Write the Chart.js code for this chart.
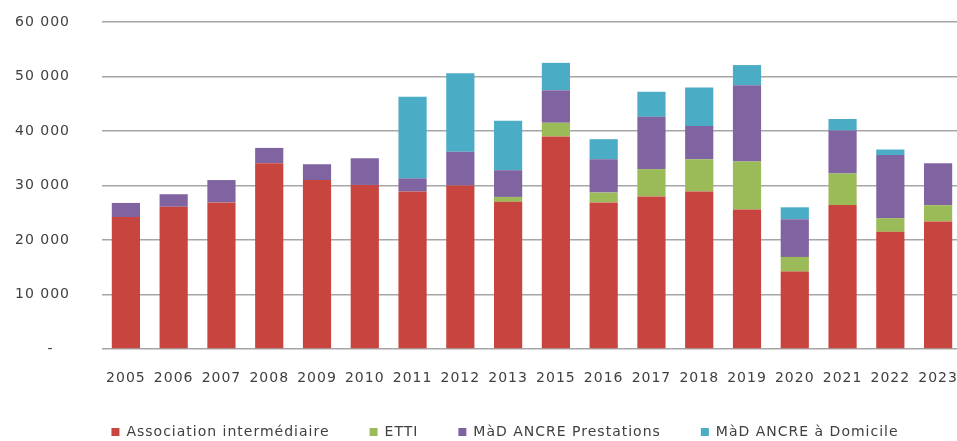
<!DOCTYPE html>
<html>
<head>
<meta charset="utf-8">
<script src="https://cdn.jsdelivr.net/npm/chart.js@4/dist/chart.umd.min.js"></script>
<style>
  html, body { margin: 0; padding: 0; background: #ffffff; overflow: hidden; }
  #wrap { position: relative; width: 966px; height: 441px; }
</style>
</head>
<body>
<div id="wrap"><canvas id="c"></canvas></div>
<script>
const years = ['2005','2006','2007','2008','2009','2010','2011','2012','2013','2015','2016','2017','2018','2019','2020','2021','2022','2023'];
const associationIntermediaire = [24200, 26100, 26900, 34100, 31000, 30100, 28900, 30000, 27000, 39000, 26900, 28000, 28900, 25600, 14200, 26400, 21500, 23400];
const etti = [0, 0, 0, 0, 0, 0, 0, 0, 900, 2500, 1800, 5000, 5900, 8800, 2700, 5800, 2500, 3000];
const madPrestations = [2600, 2300, 4100, 2800, 2900, 4900, 2400, 6200, 4900, 6000, 6100, 9600, 6100, 14000, 6900, 7900, 11600, 7700];
const madDomicile = [0, 0, 0, 0, 0, 0, 15000, 14400, 9100, 5000, 3700, 4600, 7100, 3700, 2200, 2100, 1000, 0];
const seriesNames = ['Association intermédiaire', 'ETTI', 'MàD ANCRE Prestations', 'MàD ANCRE à Domicile'];
const yTicks = [0, 10000, 20000, 30000, 40000, 50000, 60000];

const colors = ['#C8443F', '#9BBB59', '#8064A2', '#4BACC6'];
const textColor = '#404040';
const fontFamily = '"DejaVu Sans", sans-serif';

function fmt(v) {
  if (v === 0) return '-   ';
  return String(v).replace(/\B(?=(\d{3})+(?!\d))/g, ' ');
}

const spacingPlugin = {
  id: 'letterSpacing',
  beforeLayout(chart) { chart.ctx.letterSpacing = '1px'; },
  beforeDraw(chart) { chart.ctx.letterSpacing = '1px'; },
  afterLayout(chart) {
    // nudge the legend row to the reference's horizontal position
    if (chart.legend) { chart.legend.left += 19; chart.legend.right += 19; }
  }
};

const seriesData = [associationIntermediaire, etti, madPrestations, madDomicile];

new Chart(document.getElementById('c'), {
  type: 'bar',
  data: {
    labels: years,
    datasets: seriesData.map((d, i) => ({
      label: seriesNames[i],
      data: d,
      backgroundColor: colors[i],
      borderWidth: 0,
      categoryPercentage: 1,
      barPercentage: 0.59
    }))
  },
  options: {
    responsive: true,
    maintainAspectRatio: false,
    animation: false,
    layout: { padding: { left: 10, right: 4, top: 22, bottom: 0 } },
    font: { family: fontFamily, size: 14 },
    color: textColor,
    plugins: {
      tooltip: { enabled: false },
      legend: {
        position: 'bottom',
        maxHeight: 56,
        labels: {
          boxWidth: 8,
          boxHeight: 8,
          padding: 40,
          color: textColor,
          font: { family: fontFamily, size: 14 }
        }
      }
    },
    scales: {
      x: {
        stacked: true,
        grid: { display: false, drawTicks: false },
        border: { display: false },
        ticks: {
          color: textColor,
          font: { family: fontFamily, size: 14 },
          padding: 21,
          maxRotation: 0,
          autoSkip: false
        },
        afterFit(scale) { scale.height = 36; scale.paddingLeft = 0; scale.paddingRight = 0; }
      },
      y: {
        stacked: true,
        min: 0,
        max: 60000,
        afterBuildTicks(scale) { scale.ticks = yTicks.map(v => ({ value: v })); },
        grid: { color: '#A6A6A6', lineWidth: 1.5, drawTicks: false },
        border: { display: false },
        ticks: {
          color: textColor,
          font: { family: fontFamily, size: 14 },
          padding: 32,
          callback: (v) => fmt(v)
        },
        afterFit(scale) { scale.width = 92; scale.paddingTop = 0; scale.paddingBottom = 0; }
      }
    }
  },
  plugins: [spacingPlugin]
});
</script>
</body>
</html>
